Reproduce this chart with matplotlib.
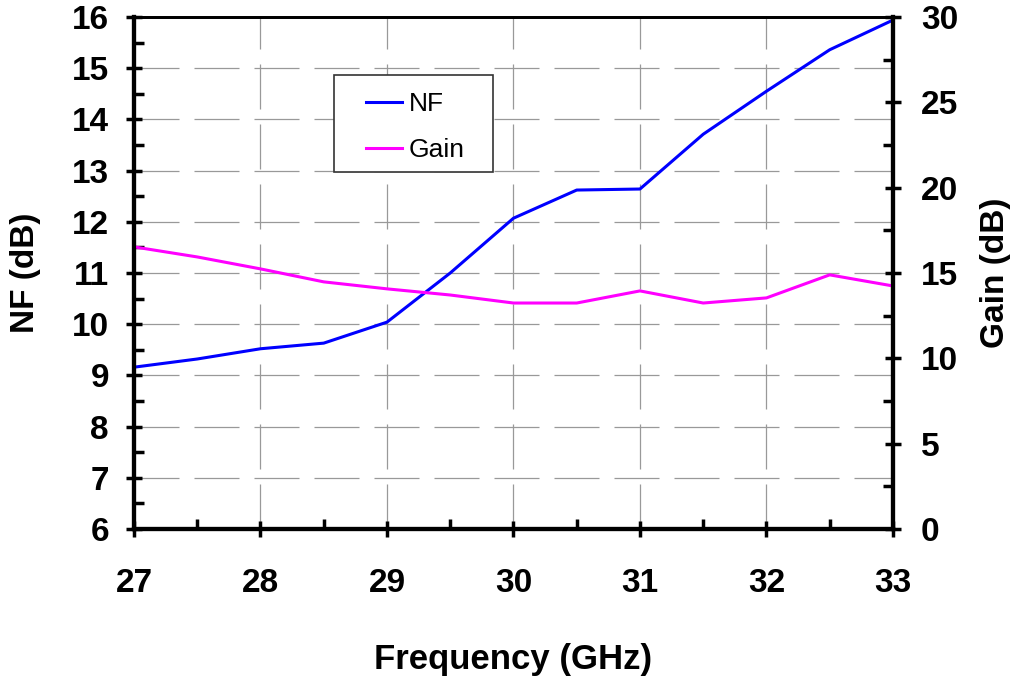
import numpy as np
import matplotlib.pyplot as plt
from matplotlib.ticker import MultipleLocator
from matplotlib.patches import Rectangle

plt.rcParams['font.family'] = ['Liberation Sans', 'DejaVu Sans']

# data
freq = [27, 27.5, 28, 28.5, 29, 29.5, 30, 30.5, 31, 31.5, 32, 32.5, 33]
nf = [9.16, 9.32, 9.52, 9.63, 10.04, 11.0, 12.07, 12.62, 12.64, 13.71, 14.55, 15.36, 15.94]
gain = [16.53, 15.94, 15.24, 14.48, 14.07, 13.71, 13.24, 13.24, 13.95, 13.24, 13.54, 14.89, 14.24]

fig = plt.figure(figsize=(10.19, 6.8), dpi=100)
ax = fig.add_axes([0.1315, 0.2221, 0.7448, 0.7529])
ax2 = ax.twinx()

ax.set_xlim(27, 33)
ax.set_ylim(6, 16)
ax2.set_ylim(0, 30)

# dashed grey grid
ax.grid(True, which='major', color='#999999', linestyle=(0, (36, 12)), linewidth=0.9)
ax.set_axisbelow(True)

# NF is drawn on the NF axis, gain on the gain axis
l1, = ax.plot(freq, nf, color='#0000ff', linewidth=2.2, label='NF')
l2, = ax2.plot(freq, gain, color='#ff00ff', linewidth=2.2, label='Gain')

ax.xaxis.set_major_locator(MultipleLocator(1))
ax.xaxis.set_minor_locator(MultipleLocator(0.5))
ax.yaxis.set_major_locator(MultipleLocator(1))
ax.yaxis.set_minor_locator(MultipleLocator(0.5))
ax2.yaxis.set_major_locator(MultipleLocator(5))
ax2.yaxis.set_minor_locator(MultipleLocator(2.5))

ax.tick_params(axis='both', which='major', direction='inout', length=12, width=2.5,
               labelsize=24)
ax.tick_params(axis='both', which='minor', direction='in', length=7, width=2.5)
ax.tick_params(axis='x', which='major', pad=22)
ax.tick_params(axis='y', which='major', pad=12)
ax2.tick_params(axis='y', which='major', direction='inout', length=12, width=2.5,
                labelsize=24, pad=14)
ax2.tick_params(axis='y', which='minor', direction='in', length=7, width=2.5)
for lab in ax.get_xticklabels() + ax.get_yticklabels() + ax2.get_yticklabels():
    lab.set_fontweight('bold')

for a in (ax, ax2):
    for s in ('left', 'bottom', 'right'):
        a.spines[s].set_linewidth(3)
    a.spines['top'].set_linewidth(2)

ax.set_xlabel('Frequency (GHz)', fontsize=25, fontweight='bold', labelpad=32)
ax.set_ylabel('NF (dB)', fontsize=24, fontweight='bold', labelpad=22)
ax2.set_ylabel('Gain (dB)', fontsize=24, fontweight='bold', labelpad=16)

# legend box (white, thin dark frame) with the entries inside
box = Rectangle((0.2635, 0.697), 0.2095, 0.19, transform=ax2.transAxes,
                facecolor='white', edgecolor='#333333', linewidth=1.2, zorder=5)
ax2.add_patch(box)
leg = ax2.legend(handles=[l1, l2], loc='upper left', bbox_to_anchor=(0.306, 0.853),
                 fontsize=19, frameon=False, handlelength=1.35, borderpad=0,
                 labelspacing=0.84, handletextpad=0.25, borderaxespad=0)
leg.set_zorder(6)

fig.savefig('out.png', dpi=100)
